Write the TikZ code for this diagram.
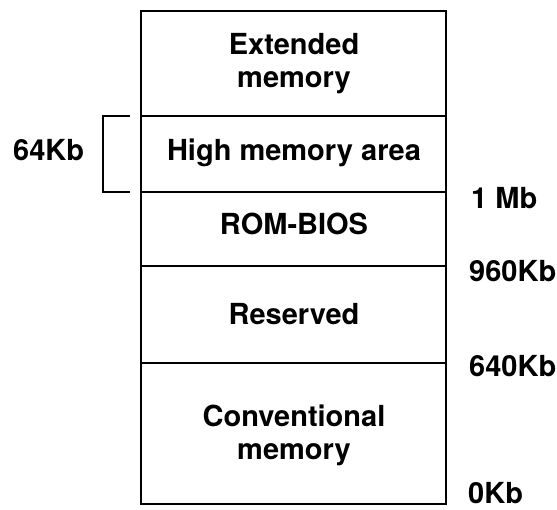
\documentclass[tikz,border=0pt]{standalone}
\usepackage{fontspec}
\setmainfont{TeX Gyre Heros}
\begin{document}
\begin{tikzpicture}[x=1pt,y=-1pt,
  lbl/.style={font=\fontsize{29}{33}\selectfont\bfseries, inner sep=0pt, align=center, anchor=base},
  side/.style={font=\fontsize{29}{33}\selectfont\bfseries, inner sep=0pt, anchor=base west},
  boxline/.style={line width=1.6pt},
  bracketline/.style={line width=1.3pt}]
\useasboundingbox (0,0) rectangle (557,510);
% outer box corners
\coordinate (TL) at (141,11);
\coordinate (BR) at (446,504);
\draw[boxline] (TL) rectangle (BR);
% dividing lines
\coordinate (a1) at (141,116); \coordinate (a2) at (446,116);
\coordinate (b1) at (141,192); \coordinate (b2) at (446,192);
\coordinate (c1) at (141,266); \coordinate (c2) at (446,266);
\coordinate (d1) at (141,363); \coordinate (d2) at (446,363);
\draw[boxline] (a1) -- (a2);
\draw[boxline] (b1) -- (b2);
\draw[boxline] (c1) -- (c2);
\draw[boxline] (d1) -- (d2);
% bracket
\coordinate (k1) at (130,116); \coordinate (k2) at (103,116);
\coordinate (k3) at (103,192); \coordinate (k4) at (130,192);
\draw[bracketline] (k1) -- (k2) -- (k3) -- (k4);
% region labels (base anchor = baseline of the last line)
\node[lbl] (ext) at (294,88) {Extended\\memory};
\node[lbl] (hma) at (294,161) {High memory area};
\node[lbl] (rom) at (294,235) {ROM-BIOS};
\node[lbl] (res) at (294,325) {Reserved};
\node[lbl] (conv) at (294,460) {Conventional\\memory};
% side labels
\node[side] (k64) at (13,161) {64Kb};
\node[side] (mb1) at (471,209) {1 Mb};
\node[side] (k960) at (469,282) {960Kb};
\node[side] (k640) at (469,377) {640Kb};
\node[side] (k0) at (468,503) {0Kb};
\end{tikzpicture}
\end{document}
